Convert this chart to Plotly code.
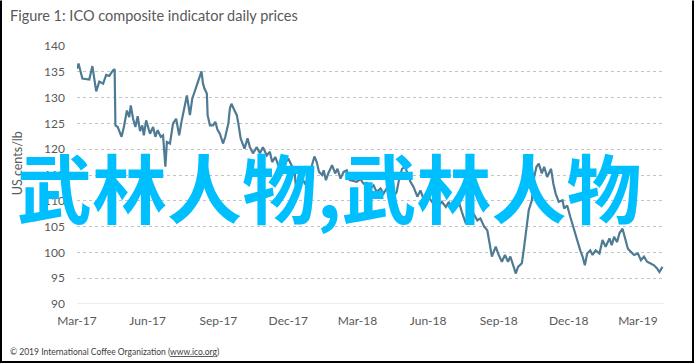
import plotly.graph_objects as go

dates = [
    "2017-03-01","2017-03-03","2017-03-08","2017-03-17","2017-03-21","2017-03-26","2017-03-30",
    "2017-04-04","2017-04-08","2017-04-12","2017-04-17","2017-04-19","2017-04-20","2017-04-23","2017-04-28",
    "2017-05-01","2017-05-05","2017-05-08","2017-05-10","2017-05-13","2017-05-16","2017-05-19","2017-05-22",
    "2017-05-25","2017-05-27","2017-05-30","2017-06-04","2017-06-08","2017-06-11","2017-06-14","2017-06-18",
    "2017-06-21","2017-06-24","2017-06-26","2017-06-30","2017-07-04","2017-07-08","2017-07-12","2017-07-15",
    "2017-07-19","2017-07-22","2017-07-26","2017-07-29","2017-08-03","2017-08-06","2017-08-08","2017-08-10",
    "2017-08-12","2017-08-14","2017-08-17","2017-08-18","2017-08-21","2017-08-25","2017-08-28","2017-08-31",
    "2017-09-03","2017-09-07","2017-09-10","2017-09-14","2017-09-16","2017-09-18","2017-09-22","2017-09-25",
    "2017-09-27","2017-09-30","2017-10-05","2017-10-09","2017-10-12","2017-10-16","2017-10-21","2017-10-25",
    "2017-10-29","2017-11-03","2017-11-07","2017-11-10","2017-11-14","2017-11-18","2017-11-22","2017-11-25",
    "2017-11-28","2017-12-01","2017-12-06","2017-12-09","2017-12-12","2017-12-15","2017-12-19","2017-12-23",
    "2017-12-27","2018-01-01","2018-01-04","2018-01-07","2018-01-10","2018-01-14","2018-01-16","2018-01-19",
    "2018-01-22","2018-01-27","2018-01-31","2018-02-03","2018-02-07","2018-02-11","2018-02-15","2018-02-19",
    "2018-02-24","2018-02-28","2018-03-05","2018-03-09","2018-03-13","2018-03-18","2018-03-22","2018-03-26",
    "2018-03-31","2018-04-04","2018-04-08","2018-04-13","2018-04-17","2018-04-21","2018-04-24","2018-04-28",
    "2018-05-02","2018-05-05","2018-05-09","2018-05-13","2018-05-18","2018-05-22","2018-05-26","2018-05-31",
    "2018-06-06","2018-06-11","2018-06-15","2018-06-19","2018-06-24","2018-06-28","2018-07-02","2018-07-07",
    "2018-07-11","2018-07-15","2018-07-20","2018-07-23","2018-07-26","2018-07-30","2018-08-04","2018-08-08",
    "2018-08-13","2018-08-17","2018-08-21","2018-08-23","2018-08-28","2018-08-31","2018-09-05","2018-09-09",
    "2018-09-13","2018-09-16","2018-09-21","2018-09-23","2018-09-26","2018-10-01","2018-10-04","2018-10-06",
    "2018-10-08","2018-10-10","2018-10-14","2018-10-17","2018-10-20","2018-10-23","2018-10-27","2018-10-30",
    "2018-11-03","2018-11-08","2018-11-11","2018-11-14","2018-11-18","2018-11-23","2018-11-25","2018-11-29",
    "2018-12-03","2018-12-06","2018-12-09","2018-12-12","2018-12-16","2018-12-19","2018-12-22","2018-12-25",
    "2018-12-29","2019-01-01","2019-01-05","2019-01-10","2019-01-14","2019-01-18","2019-01-23","2019-01-26",
    "2019-01-29","2019-02-02","2019-02-05","2019-02-09","2019-02-12","2019-02-16","2019-02-20","2019-02-24",
    "2019-03-01","2019-03-05","2019-03-09","2019-03-13","2019-03-17","2019-03-22","2019-03-26","2019-03-29",
    "2019-04-02",
]

prices = [
    135.6,136.6,133.7,133.5,136.1,131.2,133.1,
    132.7,134.4,134.2,135.3,135.5,124.6,124.3,122.4,
    124.3,127.5,126.2,128.5,125.9,124.3,126.4,123.5,
    124.6,122.7,125.6,123.0,124.3,122.4,123.7,122.4,
    122.7,116.6,121.4,121.1,125.0,125.9,122.7,125.3,
    128.5,130.4,126.6,129.8,132.0,133.3,134.6,135.1,
    132.7,131.7,130.8,126.6,124.6,124.6,125.3,123.7,
    123.0,121.1,122.4,125.0,127.9,128.8,127.5,126.6,
    125.0,122.1,120.1,122.1,120.4,119.2,120.4,119.2,
    120.4,118.8,119.5,117.5,118.5,116.9,116.9,115.9,
    117.5,118.2,116.6,116.2,110.5,113.7,114.3,113.3,
    114.3,116.9,118.6,117.5,115.6,115.0,115.9,114.0,
    115.3,116.9,115.3,116.2,114.3,115.6,115.9,114.0,
    113.8,113.7,114.2,113.3,113.5,112.4,113.0,111.7,
    112.4,111.4,112.4,111.7,110.8,111.7,114.0,116.2,
    116.6,115.3,113.7,112.7,110.8,112.0,110.4,111.1,
    109.8,110.4,109.1,109.8,108.8,109.8,108.2,109.5,
    109.8,107.8,105.6,107.5,106.6,107.5,106.2,106.6,
    105.0,104.3,101.1,99.2,101.1,99.8,98.2,99.5,
    98.2,99.2,96.9,95.9,97.2,97.9,101.1,103.7,
    105.6,108.2,110.1,114.6,116.6,117.2,115.3,116.6,
    114.6,116.2,113.3,111.4,109.8,110.1,108.5,109.1,
    106.9,105.3,103.7,102.4,100.4,99.2,97.5,99.8,
    100.4,99.5,100.4,99.8,102.4,101.1,102.7,101.4,
    103.0,102.0,103.7,104.6,103.0,100.7,100.1,99.5,
    99.8,98.5,99.2,98.2,97.9,97.5,96.9,96.2,
    97.2,
]

y_ticks = [90, 95, 100, 105, 110, 115, 120, 125, 130, 135, 140]

title_text = "Figure 1: ICO composite indicator daily prices"
y_title = "US cents/lb"
source_text = "© 2019 International Coffee Organization (<u>www.ico.org</u>)"
overlay_text = "武林人物,武林人物"

GREY = "#595959"
FONT = "Lato, 'Open Sans', sans-serif"

fig = go.Figure()
fig.add_trace(go.Scatter(
    x=dates, y=prices, mode="lines",
    line=dict(color="#4E7B93", width=2.2),
    showlegend=False, hoverinfo="skip",
))

L, R, T, B = 77, 31, 45.5, 60
W, H = 695, 364
pw, ph = W - L - R, H - T - B

def px(x):
    return (x - L) / pw

def py(y):
    return (H - B - y) / ph

fig.update_layout(
    width=W, height=H,
    margin=dict(l=L, r=R, t=T, b=B, pad=0, autoexpand=False),
    paper_bgcolor="white", plot_bgcolor="white",
    font=dict(family=FONT, color=GREY, size=12),
    xaxis=dict(
        range=["2017-03-01", "2019-04-04"],
        tick0="2017-03-01", dtick="M3", tickformat="%b-%y",
        showgrid=False, showline=False,
        ticks="", ticklabelstandoff=8, automargin=False,
        tickfont=dict(size=12, color=GREY, family=FONT),
        zeroline=False,
    ),
    yaxis=dict(
        range=[90, 140], tickvals=y_ticks,
        showgrid=True, gridcolor="#C4C4C4", griddash="dot", gridwidth=1,
        ticks="", ticklabelstandoff=11, automargin=False,
        tickfont=dict(size=12, color=GREY, family=FONT),
        zeroline=False, showline=False,
    ),
    annotations=[
        dict(text=title_text, xref="paper", yref="paper", x=px(8), y=py(15),
             xanchor="left", yanchor="middle", showarrow=False,
             font=dict(size=14.5, color=GREY, family=FONT)),
        dict(text=y_title, xref="paper", yref="paper", x=px(17), y=py(163),
             xanchor="center", yanchor="middle", showarrow=False, textangle=-90,
             font=dict(size=12.5, color=GREY, family=FONT)),
        dict(text=source_text, xref="paper", yref="paper", x=px(8), y=py(352),
             xanchor="left", yanchor="middle", showarrow=False,
             font=dict(size=8.5, color="#404040", family=FONT)),
        dict(text=overlay_text, xref="paper", yref="paper", x=px(329), y=py(185),
             xanchor="center", yanchor="middle", showarrow=False,
             font=dict(size=75, color="#00BFFF", family="Noto Sans CJK SC", weight="bold")),
    ],
    shapes=[
        dict(type="path", xref="paper", yref="paper",
             path=f"M {px(1)} {py(0)} L {px(1)} {py(362)} L {px(693)} {py(362)} L {px(693)} {py(0)}",
             line=dict(color="black", width=2)),
        dict(type="line", xref="paper", yref="y", x0=0, x1=1, y0=90, y1=90,
             line=dict(color="#D9D9D9", width=1.2)),
    ],
)

fig.write_html("out.html",
               config={"displayModeBar": False},
               post_script="document.body.style.margin='0';document.body.style.overflow='hidden';")
